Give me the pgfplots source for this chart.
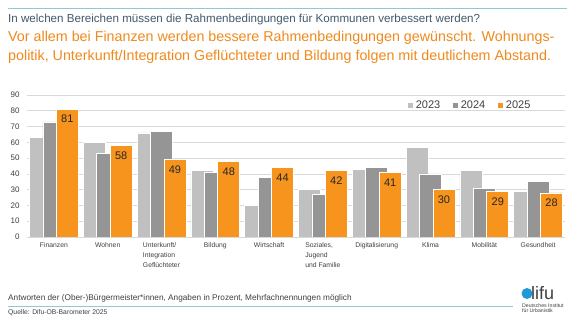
\documentclass[border=0pt]{standalone}
\usepackage{fontspec}
\setmainfont{Liberation Sans}
\usepackage{pgfplots}
\pgfplotsset{compat=1.18}
\definecolor{cA}{HTML}{C0C0C0}
\definecolor{cB}{HTML}{959595}
\definecolor{cC}{HTML}{F7941D}
\definecolor{titlegray}{HTML}{44596A}
\definecolor{titleorange}{HTML}{F08A1C}
\definecolor{tealline}{HTML}{8FC8D6}
\definecolor{gridc}{HTML}{D9D9D9}
\definecolor{txt}{HTML}{404040}
\definecolor{difublue}{HTML}{1E9AD6}
\begin{document}
\begin{tikzpicture}[x=1pt,y=1pt]
\useasboundingbox (0,0) rectangle (575,323);
\fill[white] (0,0) rectangle (575,323);
\draw[tealline, line width=0.8pt] (8,315) -- (567,315);
\node[anchor=base west, inner sep=0, text=titlegray, font=\fontsize{11.6}{13}\selectfont] at (8,300) {In welchen Bereichen müssen die Rahmenbedingungen für Kommunen verbessert werden?};
\node[anchor=base west, inner sep=0, text=titleorange, font=\fontsize{14.3}{16}\selectfont] at (8,281) {Vor allem bei Finanzen werden bessere Rahmenbedingungen gewünscht. Wohnungs-};
\node[anchor=base west, inner sep=0, text=titleorange, font=\fontsize{14.3}{16}\selectfont] at (8,262) {politik, Unterkunft/Integration Geflüchteter und Bildung folgen mit deutlichem Abstand.};
\begin{axis}[
  at={(27pt,86pt)}, anchor=south west, scale only axis,
  width=538pt, height=142pt,
  xmin=-0.5, xmax=9.5, ymin=0, ymax=90,
  ytick={0,10,...,90},
  xtick={0,...,9},
  xticklabels={Finanzen, Wohnen, {Unterkunft/\\Integration\\Geflüchteter}, Bildung, Wirtschaft, {Soziales,\\Jugend\\und Familie}, Digitalisierung, Klima, Mobilität, Gesundheit},
  xticklabel style={align=left, font=\fontsize{6.8}{10}\selectfont, text=txt, yshift=-2pt},
  yticklabel style={font=\fontsize{8}{9}\selectfont, text=txt, xshift=-4pt},
  /pgf/number format/assume math mode=true,
  ymajorgrids, grid style={draw=gridc, line width=0.6pt},
  axis line style={draw=none},
  major tick length=0pt,
  legend style={at={(0.823,0.93)}, anchor=center, draw=none, fill=none, legend columns=3, font=\fontsize{11}{13}\selectfont, text=txt, /tikz/every even column/.append style={column sep=10pt}},
  legend image code/.code={\fill[#1] (0pt,-3pt) rectangle (6pt,3pt);},
]
\addplot[ybar, bar width=0.41, bar shift=-0.25, fill=cA, draw=white, line width=0.6pt] coordinates {(0,63) (1,60) (2,66) (3,42) (4,20) (5,30) (6,43) (7,57) (8,42) (9,29)};
\addlegendentry{2023}
\addplot[ybar, bar width=0.41, bar shift=0, fill=cB, draw=white, line width=0.6pt] coordinates {(0,73) (1,53) (2,67) (3,41) (4,38) (5,27) (6,44) (7,40) (8,31) (9,35)};
\addlegendentry{2024}
\addplot[ybar, bar width=0.41, bar shift=0.25, fill=cC, draw=white, line width=0.6pt] coordinates {(0,81) (1,58) (2,49) (3,48) (4,44) (5,42) (6,41) (7,30) (8,29) (9,28)};
\addlegendentry{2025}
\addplot[draw=none, mark=none, forget plot,
  nodes near coords, nodes near coords style={anchor=center, yshift=-10pt, font=\fontsize{11}{13}\selectfont, text=black!85}] coordinates {(0.25,81) (1.25,58) (2.25,49) (3.25,48) (4.25,44) (5.25,42) (6.25,41) (7.25,30) (8.25,29) (9.25,28)};
\draw[gridc!70!gray, line width=0.8pt] (axis cs:-0.5,0) -- (axis cs:9.5,0);
\end{axis}
\node[anchor=base west, inner sep=0, text=txt, font=\fontsize{8.25}{10}\selectfont] at (8,22) {Antworten der (Ober-)Bürgermeister*innen, Angaben in Prozent, Mehrfachnennungen möglich};
\draw[tealline, line width=0.7pt] (8,17) -- (513,17);
\node[anchor=base west, inner sep=0, text=txt, font=\fontsize{6.8}{8}\selectfont] at (8,8) {Quelle: Difu-OB-Barometer 2025};
\fill[difublue] (527,29.5) circle (5.5);
\node[anchor=base west, inner sep=0, text=txt, font=\fontsize{18}{19}\selectfont] at (531,23.5) {lifu};
\node[anchor=base west, inner sep=0, text=txt, font=\fontsize{5.2}{6}\selectfont, align=left] at (522,15.5) {Deutsches Institut};
\node[anchor=base west, inner sep=0, text=txt, font=\fontsize{5.2}{6}\selectfont, align=left] at (522,10) {für Urbanistik};
\end{tikzpicture}
\end{document}
